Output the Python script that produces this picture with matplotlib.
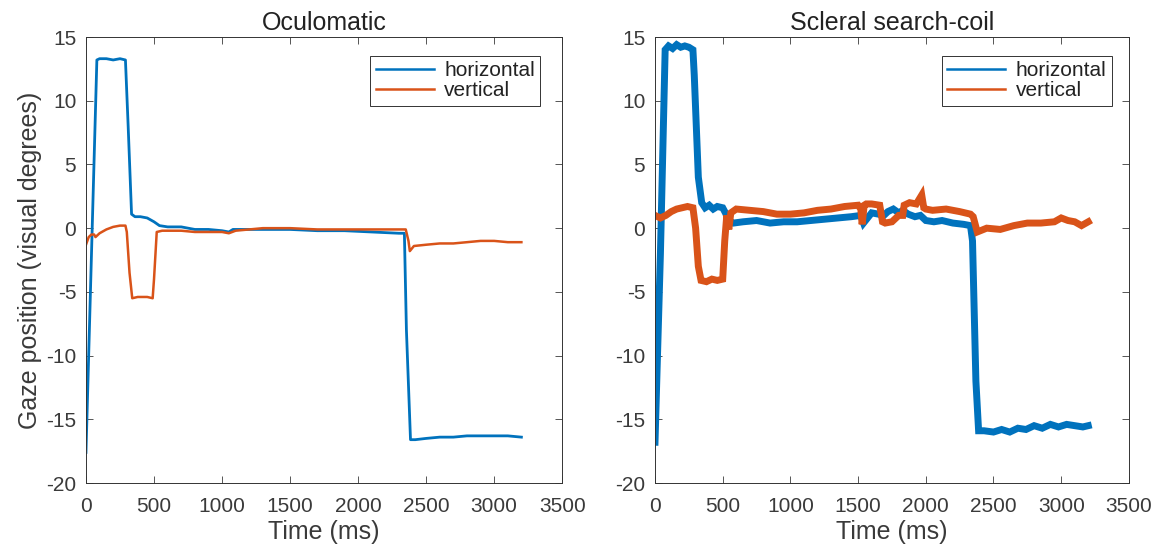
import matplotlib
matplotlib.use("Agg")
import matplotlib.pyplot as plt
from matplotlib.lines import Line2D

# Oculomatic traces (time in ms, gaze in visual degrees)
ocu_h_t = [0, 80, 100, 150, 200, 250, 290, 310, 335, 360, 400, 450, 500, 540, 600, 700, 800,
           900, 1000, 1050, 1080, 1150, 1300, 1500, 1700, 1900, 2100, 2300, 2340, 2355, 2385,
           2420, 2500, 2600, 2700, 2800, 2900, 3000, 3100, 3200]
ocu_h = [-17.6, 13.2, 13.3, 13.3, 13.2, 13.3, 13.2, 8.0, 1.1, 0.9, 0.9, 0.8, 0.5, 0.2, 0.1, 0.1,
         -0.1, -0.1, -0.2, -0.3, -0.1, -0.1, -0.1, -0.1, -0.2, -0.2, -0.3, -0.4, -0.4, -8.0,
         -16.6, -16.6, -16.5, -16.4, -16.4, -16.3, -16.3, -16.3, -16.3, -16.4]

ocu_v_t = [0, 20, 40, 60, 70, 100, 150, 200, 250, 290, 300, 320, 340, 380, 450, 490, 500, 520,
           560, 600, 700, 800, 900, 1000, 1050, 1100, 1200, 1300, 1500, 1700, 1900, 2100, 2300,
           2350, 2370, 2380, 2410, 2500, 2600, 2700, 2800, 2900, 3000, 3100, 3150, 3200]
ocu_v = [-1.3, -0.7, -0.5, -0.5, -0.7, -0.4, -0.1, 0.1, 0.2, 0.2, -0.3, -3.5, -5.5, -5.4, -5.4,
         -5.5, -4.0, -0.3, -0.2, -0.2, -0.2, -0.3, -0.3, -0.3, -0.4, -0.2, -0.1, 0.0, 0.0, -0.1,
         -0.1, -0.1, -0.1, -0.1, -1.0, -1.8, -1.4, -1.3, -1.2, -1.2, -1.1, -1.0, -1.0, -1.1,
         -1.1, -1.1]

# Scleral search-coil traces
coil_h_t = [0, 40, 75, 100, 130, 160, 190, 220, 250, 280, 290, 320, 345, 370, 400, 430, 460,
            500, 520, 545, 580, 650, 750, 850, 950, 1050, 1150, 1250, 1350, 1450, 1520, 1540,
            1600, 1650, 1690, 1720, 1760, 1800, 1830, 1870, 1920, 1960, 2000, 2060, 2120, 2200,
            2280, 2330, 2345, 2370, 2390, 2430, 2500, 2560, 2620, 2680, 2740, 2800, 2860, 2920,
            2980, 3040, 3100, 3160, 3200]
coil_h = [-16.8, -2.0, 14.0, 14.3, 14.1, 14.4, 14.2, 14.3, 14.2, 14.0, 12.0, 4.0, 2.0, 1.6, 1.8,
          1.5, 1.7, 1.6, 1.2, 0.6, 0.4, 0.5, 0.6, 0.4, 0.5, 0.5, 0.6, 0.7, 0.8, 0.9, 1.0, 0.4,
          1.2, 1.1, 1.0, 1.3, 1.5, 1.2, 1.4, 1.1, 0.9, 1.0, 0.6, 0.5, 0.6, 0.4, 0.3, 0.2, -1.0,
          -12.0, -15.9, -15.9, -16.0, -15.8, -16.0, -15.7, -15.8, -15.5, -15.7, -15.4, -15.6,
          -15.4, -15.5, -15.6, -15.5]

coil_v_t = [0, 40, 80, 120, 160, 200, 240, 280, 300, 320, 340, 380, 420, 460, 500, 515, 530,
            545, 560, 600, 700, 800, 900, 1000, 1100, 1200, 1300, 1400, 1500, 1520, 1530, 1545,
            1560, 1600, 1660, 1680, 1700, 1750, 1800, 1830, 1840, 1880, 1930, 1970, 1985, 2000,
            2050, 2150, 2250, 2330, 2350, 2380, 2450, 2550, 2650, 2750, 2850, 2950, 3000, 3050,
            3100, 3150, 3200]
coil_v = [1.0, 0.8, 1.0, 1.3, 1.5, 1.6, 1.7, 1.6, 0.0, -3.0, -4.1, -4.2, -4.0, -4.1, -4.0, -1.0,
          1.0, -0.1, 1.2, 1.5, 1.4, 1.3, 1.1, 1.1, 1.2, 1.4, 1.5, 1.7, 1.8, 1.5, 0.3, 1.8, 1.9,
          1.9, 1.8, 0.5, 0.4, 0.5, 1.0, 1.0, 1.8, 2.0, 1.9, 2.6, 1.6, 1.5, 1.4, 1.5, 1.3, 1.1,
          0.9, -0.3, 0.0, -0.1, 0.2, 0.4, 0.4, 0.5, 0.8, 0.6, 0.5, 0.2, 0.5]

BLUE = '#0072BD'
ORANGE = '#D95319'
TXT = '#3a3a3a'

plt.rcParams['font.family'] = ['Liberation Sans', 'DejaVu Sans']
plt.rcParams['font.size'] = 15
plt.rcParams['axes.unicode_minus'] = False  # plain hyphen like the original

fig = plt.figure(figsize=(11.73, 5.51), dpi=100)
ax1 = fig.add_axes([0.0733, 0.1234, 0.406, 0.8094])
ax2 = fig.add_axes([0.5584, 0.1234, 0.404, 0.8094])


def style(ax, title):
    ax.set_xlim(0, 3500)
    ax.set_ylim(-20, 15)
    ax.set_xticks(range(0, 3501, 500))
    ax.set_yticks(range(-20, 16, 5))
    ax.tick_params(direction='in', top=True, right=True, colors=TXT, labelsize=15,
                   length=5, width=0.6)
    ax.tick_params(axis='x', pad=10)
    ax.tick_params(axis='y', pad=7)
    for s in ax.spines.values():
        s.set_color('#333333')
        s.set_linewidth(0.7)
    ax.set_title(title, color='#222222', fontsize=18, pad=5)
    ax.set_xlabel('Time (ms)', color=TXT, fontsize=18, labelpad=3)


ax1.plot(ocu_h_t, ocu_h, color=BLUE, lw=2)
ax1.plot(ocu_v_t, ocu_v, color=ORANGE, lw=1.8)
style(ax1, 'Oculomatic')
ax1.set_ylabel('Gaze position (visual degrees)', color=TXT, fontsize=18, labelpad=3)

ax2.plot(coil_h_t, coil_h, color=BLUE, lw=5, solid_joinstyle='miter')
ax2.plot(coil_v_t, coil_v, color=ORANGE, lw=5, solid_joinstyle='miter')
style(ax2, 'Scleral search-coil')

handles = [Line2D([], [], color=BLUE, lw=1.8), Line2D([], [], color=ORANGE, lw=1.8)]
for ax, xa in ((ax1, 0.954), (ax2, 0.964)):
    leg = ax.legend(handles, ['horizontal', 'vertical'], loc='upper right',
                    bbox_to_anchor=(xa, 0.957), fontsize=15, handlelength=2.8,
                    fancybox=False, framealpha=1, borderpad=0.25, labelspacing=0.05,
                    handletextpad=0.5, borderaxespad=0)
    leg.get_frame().set_edgecolor('#333333')
    leg.get_frame().set_linewidth(0.7)
    for t in leg.get_texts():
        t.set_color('#222222')

fig.savefig('out.png', dpi=100)
